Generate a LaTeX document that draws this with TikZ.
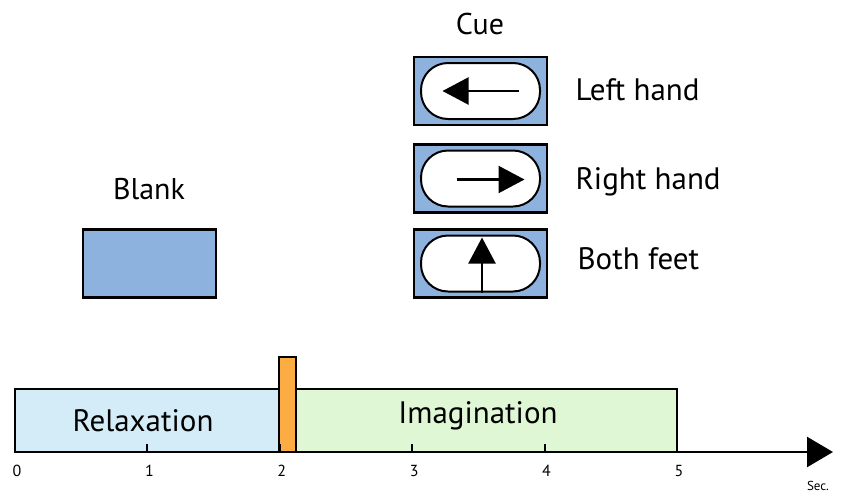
\documentclass[tikz,border=0pt]{standalone}
\usepackage{fontspec}
\setmainfont{PT Sans}
\usetikzlibrary{arrows.meta}
\definecolor{cuecolor}{RGB}{141, 178, 222}
\definecolor{relaxcolor}{RGB}{212, 236, 247}
\definecolor{imagcolor}{RGB}{223, 247, 212}
\definecolor{goalcolor}{RGB}{251, 172, 66}

\begin{document}
\begin{tikzpicture}[x=1pt, y=-1pt,
        screen/.style={draw, line width=2.5pt, fill=cuecolor, minimum width=133pt, minimum height=68pt, inner sep=0pt},
        pill/.style={draw, line width=2pt, fill=white, rounded corners=27pt, minimum width=119pt, minimum height=56pt, inner sep=0pt},
        cuearrow/.style={line width=2.2pt, -{Triangle[length=26pt, width=27pt]}},
        label/.style={font=\fontsize{31}{34}\selectfont, anchor=west},
        phase/.style={draw, line width=2.5pt}]
        \useasboundingbox (0, 0) rectangle (843, 493);

        % Blank screen
        \node[font=\fontsize{30}{34}\selectfont] (blanktext) at (149, 189) {Blank};
        \node[screen] (blank) at (149.5, 263.5) {};

        % Cue screens
        \node[font=\fontsize{30}{34}\selectfont] (cuetext) at (480, 24) {Cue};
        \node[screen] (left) at (480.5, 91) {};
        \node[screen] (right) at (480.5, 178.5) {};
        \node[screen] (feet) at (480.5, 263.5) {};
        \node[pill] (leftpill) at (left.center) {};
        \node[pill] (rightpill) at (right.center) {};
        \node[pill] (feetpill) at (feet.center) {};
        \draw[cuearrow] ([xshift=38]left.center) -- ([xshift=-38]left.center);
        \draw[cuearrow] ([xshift=-24, yshift=-1]right.center) -- ([xshift=44, yshift=-1]right.center);
        \draw[cuearrow] ([xshift=1.5]feetpill.south) -- ([xshift=1.5, yshift=-3]feetpill.north);
        \node[label] (lefttext) at (572, 90) {Left hand};
        \node[label] (righttext) at (572, 182) {Right hand};
        \node[label] (feettext) at (574, 259) {Both feet};

        % Time line
        \filldraw[phase, fill=relaxcolor] (15, 389) rectangle (279, 452);
        \filldraw[phase, fill=imagcolor] (296, 389) rectangle (677, 452);
        \filldraw[phase, fill=goalcolor] (279, 357) rectangle (296, 452);
        \node[font=\fontsize{31}{34}\selectfont] (relaxtext) at (143, 421) {Relaxation};
        \node[font=\fontsize{31}{34}\selectfont] (imagtext) at (478, 416) {Imagination};
        \draw[line width=2.5pt, -{Triangle[length=26pt, width=30pt]}] (15, 452) -- (833, 452);
        \foreach \t in {0,...,5} {
                \draw[line width=2pt] (15+132.4*\t, 452) -- +(0, -8);
                \node[font=\fontsize{16}{18}\selectfont] (tick\t) at (17+132.4*\t, 471) {\t};
        }
        \node[font=\fontsize{13}{15}\selectfont] (sectext) at (818, 486) {Sec.};
\end{tikzpicture}
\end{document}
